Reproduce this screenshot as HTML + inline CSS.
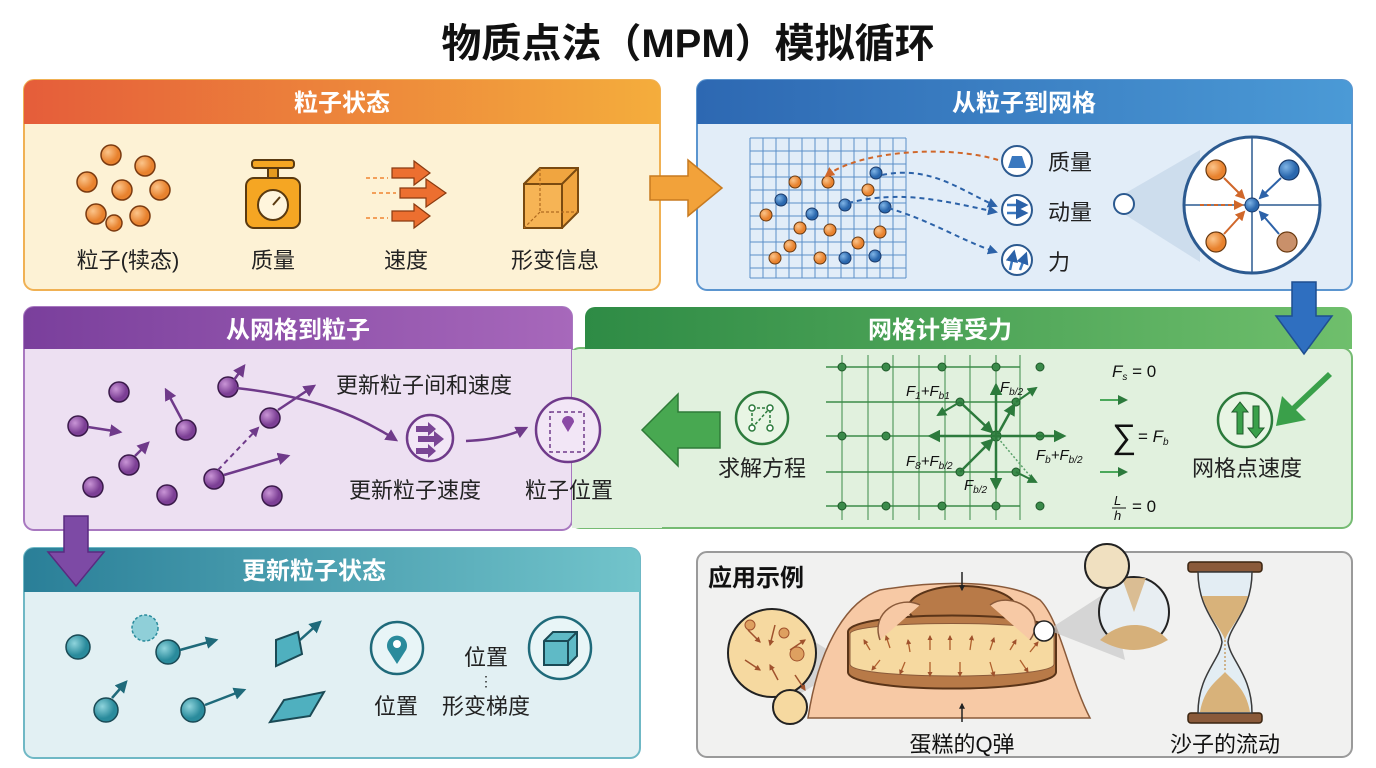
<!DOCTYPE html>
<html><head><meta charset="utf-8"><style>
html,body{margin:0;padding:0;background:#fff;}
svg{display:block;}
text{font-family:"Liberation Sans","Noto Sans CJK SC",sans-serif;}
</style></head><body>
<svg width="1376" height="768" viewBox="0 0 1376 768" xmlns="http://www.w3.org/2000/svg">
<defs>
<linearGradient id="gOr" x1="0" x2="1"><stop offset="0" stop-color="#e55d3a"/><stop offset="1" stop-color="#f4ad3c"/></linearGradient>
<linearGradient id="gBl" x1="0" x2="1"><stop offset="0" stop-color="#2d68b2"/><stop offset="1" stop-color="#4b9ad6"/></linearGradient>
<linearGradient id="gPu" x1="0" x2="1"><stop offset="0" stop-color="#7a3f9c"/><stop offset="1" stop-color="#a768bb"/></linearGradient>
<linearGradient id="gGr" x1="0" x2="1"><stop offset="0" stop-color="#2e8b45"/><stop offset="1" stop-color="#6fbf6c"/></linearGradient>
<linearGradient id="gTe" x1="0" x2="1"><stop offset="0" stop-color="#2a7f98"/><stop offset="1" stop-color="#72c4cb"/></linearGradient>
<radialGradient id="bOr" cx=".35" cy=".35"><stop offset="0" stop-color="#fbc48a"/><stop offset="1" stop-color="#e8822e"/></radialGradient>
<radialGradient id="bBl" cx=".35" cy=".35"><stop offset="0" stop-color="#7fb4e6"/><stop offset="1" stop-color="#2a67ad"/></radialGradient>
<radialGradient id="bPu" cx=".35" cy=".35"><stop offset="0" stop-color="#c995d6"/><stop offset="1" stop-color="#7c3f95"/></radialGradient>
<radialGradient id="bTe" cx=".35" cy=".35"><stop offset="0" stop-color="#8fd4dc"/><stop offset="1" stop-color="#2a8b9c"/></radialGradient>
<marker id="aO" viewBox="0 0 10 10" refX="8" refY="5" markerWidth="5" markerHeight="5" orient="auto"><path d="M0,0L10,5L0,10z" fill="#d0672a"/></marker>
<marker id="aB" viewBox="0 0 10 10" refX="8" refY="5" markerWidth="5" markerHeight="5" orient="auto"><path d="M0,0L10,5L0,10z" fill="#2c62a8"/></marker>
<marker id="aP" viewBox="0 0 10 10" refX="8" refY="5" markerWidth="5" markerHeight="5" orient="auto"><path d="M0,0L10,5L0,10z" fill="#6f3a8a"/></marker>
<marker id="aG" viewBox="0 0 10 10" refX="8" refY="5" markerWidth="5" markerHeight="5" orient="auto"><path d="M0,0L10,5L0,10z" fill="#2c7a3c"/></marker>
<marker id="aT" viewBox="0 0 10 10" refX="8" refY="5" markerWidth="5" markerHeight="5" orient="auto"><path d="M0,0L10,5L0,10z" fill="#1f6a7a"/></marker>
<marker id="aR" viewBox="0 0 10 10" refX="8" refY="5" markerWidth="4" markerHeight="4" orient="auto"><path d="M0,0L10,5L0,10z" fill="#a0522d"/></marker>
<marker id="aK" viewBox="0 0 10 10" refX="8" refY="5" markerWidth="4" markerHeight="4" orient="auto"><path d="M0,0L10,5L0,10z" fill="#222"/></marker>
</defs>

<text x="688" y="57" text-anchor="middle" font-size="40" font-weight="bold" fill="#111">物质点法（MPM）模拟循环</text>

<!-- Panel 1 -->
<rect x="24" y="80" width="636" height="210" rx="10" fill="#fdf2d5" stroke="#f0b154" stroke-width="2"/>
<path d="M34,80h616a10,10 0 0 1 10,10v34h-636v-34a10,10 0 0 1 10,-10z" fill="url(#gOr)"/>
<text x="342" y="111" text-anchor="middle" font-size="24" font-weight="bold" fill="#fff">粒子状态</text>
<g stroke="#7a3a10" stroke-width="1.5" fill="url(#bOr)">
<circle cx="111" cy="155" r="10"/><circle cx="87" cy="182" r="10"/><circle cx="122" cy="190" r="10"/><circle cx="96" cy="214" r="10"/><circle cx="145" cy="166" r="10"/><circle cx="160" cy="190" r="10"/><circle cx="140" cy="216" r="10"/><circle cx="114" cy="223" r="8"/>
</g>
<text x="128" y="268" text-anchor="middle" font-size="22" fill="#222">粒子(犊态)</text>
<rect x="246" y="178" width="54" height="50" rx="8" fill="#f5a623" stroke="#5a3a10" stroke-width="2"/>
<rect x="252" y="160" width="42" height="8" rx="3" fill="#f5a623" stroke="#5a3a10" stroke-width="2"/>
<rect x="268" y="168" width="10" height="10" fill="#e59a1f" stroke="#5a3a10" stroke-width="2"/>
<circle cx="273" cy="205" r="15" fill="#fff5dc" stroke="#5a3a10" stroke-width="2"/>
<line x1="273" y1="205" x2="280" y2="197" stroke="#5a3a10" stroke-width="2"/>
<text x="273" y="268" text-anchor="middle" font-size="22" fill="#222">质量</text>
<g fill="#ec6f30" stroke="#8a3a10" stroke-width="1.2">
<path d="M392,168h22v-7l16,12l-16,12v-7h-22z"/>
<path d="M400,188h26v-9l20,14l-20,14v-9h-26z"/>
<path d="M392,211h22v-7l16,12l-16,12v-7h-22z"/>
</g>
<g stroke="#f3a05a" stroke-width="2" stroke-dasharray="4 3"><line x1="366" y1="178" x2="388" y2="178"/><line x1="372" y1="193" x2="396" y2="193"/><line x1="366" y1="218" x2="388" y2="218"/></g>
<text x="406" y="268" text-anchor="middle" font-size="22" fill="#222">速度</text>
<path d="M524,184l16,-16h38v44l-16,16h-38z" fill="#f0a540" stroke="#7a4a10" stroke-width="2"/>
<path d="M524,184h38v44h-38z" fill="#f6b455" stroke="#7a4a10" stroke-width="2"/>
<path d="M562,184l16,-16M524,184l16,-16" stroke="#7a4a10" stroke-width="2"/>
<path d="M540,168v44h38M540,212l-16,16" stroke="#b06a20" stroke-width="1.2" stroke-dasharray="3 2" fill="none"/>
<text x="555" y="268" text-anchor="middle" font-size="22" fill="#222">形变信息</text>

<!-- Panel 2 -->
<rect x="697" y="80" width="655" height="210" rx="10" fill="#e2edf8" stroke="#5b95cf" stroke-width="2"/>
<path d="M707,80h635a10,10 0 0 1 10,10v34h-655v-34a10,10 0 0 1 10,-10z" fill="url(#gBl)"/>
<text x="1024" y="111" text-anchor="middle" font-size="24" font-weight="bold" fill="#fff">从粒子到网格</text>
<g stroke="#5b8fc8" stroke-width="1">
<path d="M750,138v140M763,138v140M776,138v140M789,138v140M802,138v140M815,138v140M828,138v140M841,138v140M854,138v140M867,138v140M880,138v140M893,138v140M906,138v140"/>
<path d="M750,138h156M750,151h156M750,164h156M750,177h156M750,190h156M750,203h156M750,216h156M750,229h156M750,242h156M750,255h156M750,268h156M750,278h156"/>
</g>
<g stroke="#6a3a10" stroke-width="1" fill="url(#bOr)">
<circle cx="795" cy="182" r="6"/><circle cx="828" cy="182" r="6"/><circle cx="766" cy="215" r="6"/><circle cx="800" cy="228" r="6"/><circle cx="830" cy="230" r="6"/><circle cx="858" cy="243" r="6"/><circle cx="790" cy="246" r="6"/><circle cx="775" cy="258" r="6"/><circle cx="820" cy="258" r="6"/><circle cx="880" cy="232" r="6"/><circle cx="868" cy="190" r="6"/>
</g>
<g stroke="#1a3a6a" stroke-width="1" fill="url(#bBl)">
<circle cx="876" cy="173" r="6"/><circle cx="781" cy="200" r="6"/><circle cx="812" cy="214" r="6"/><circle cx="845" cy="205" r="6"/><circle cx="885" cy="207" r="6"/><circle cx="845" cy="258" r="6"/><circle cx="875" cy="256" r="6"/>
</g>
<path d="M998,160C950,145 860,150 826,176" stroke="#d0672a" stroke-width="2" stroke-dasharray="5 4" fill="none" marker-end="url(#aO)"/>
<path d="M882,175C930,165 960,190 996,206" stroke="#2c62a8" stroke-width="2" stroke-dasharray="5 4" fill="none" marker-end="url(#aB)"/>
<path d="M848,203C900,190 940,200 996,212" stroke="#2c62a8" stroke-width="2" stroke-dasharray="5 4" fill="none" marker-end="url(#aB)"/>
<path d="M888,208C930,220 960,240 996,252" stroke="#2c62a8" stroke-width="2" stroke-dasharray="5 4" fill="none" marker-end="url(#aB)"/>
<g stroke="#2c5a90" stroke-width="2" fill="#fff">
<circle cx="1017" cy="161" r="15"/><circle cx="1017" cy="210" r="15"/><circle cx="1017" cy="260" r="15"/>
</g>
<path d="M1008,168l4,-12h10l4,12z" fill="#3a78bf"/>
<g stroke="#3a78bf" stroke-width="2.5" fill="none" marker-end="url(#aB)"><line x1="1007" y1="205" x2="1026" y2="205"/><line x1="1007" y1="213" x2="1026" y2="213"/><line x1="1010" y1="270" x2="1014" y2="252"/><line x1="1020" y1="270" x2="1026" y2="254"/></g>
<text x="1048" y="170" font-size="22" fill="#222">质量</text>
<text x="1048" y="220" font-size="22" fill="#222">动量</text>
<text x="1048" y="270" font-size="22" fill="#222">力</text>
<path d="M1124,194L1200,150L1200,262L1124,214z" fill="#c8d8ea" opacity=".8"/>
<circle cx="1124" cy="204" r="10" fill="#fff" stroke="#2c5a90" stroke-width="2"/>
<circle cx="1252" cy="205" r="68" fill="#fff" stroke="#2c5a90" stroke-width="3"/>
<path d="M1184,205h136M1252,137v136" stroke="#2c5a90" stroke-width="1.5"/>
<circle cx="1252" cy="205" r="7" fill="url(#bBl)" stroke="#1a3a6a"/>
<g stroke="#6a3a10" stroke-width="1.2"><circle cx="1216" cy="170" r="10" fill="url(#bOr)"/><circle cx="1216" cy="242" r="10" fill="url(#bOr)"/><circle cx="1287" cy="242" r="10" fill="#c9906a"/></g>
<circle cx="1289" cy="170" r="10" fill="url(#bBl)" stroke="#1a3a6a" stroke-width="1.2"/>
<g stroke-width="2" fill="none"><line x1="1224" y1="178" x2="1244" y2="198" stroke="#d0672a" marker-end="url(#aO)"/><line x1="1224" y1="234" x2="1244" y2="212" stroke="#d0672a" marker-end="url(#aO)"/><line x1="1281" y1="178" x2="1260" y2="198" stroke="#2c62a8" marker-end="url(#aB)"/><line x1="1279" y1="234" x2="1260" y2="212" stroke="#2c62a8" marker-end="url(#aB)"/><line x1="1200" y1="205" x2="1242" y2="205" stroke="#d0672a" stroke-dasharray="4 3" marker-end="url(#aO)"/></g>

<!-- arrow 1->2 -->
<path d="M650,176h38v-16l34,28l-34,28v-16h-38z" fill="#f2a23a" stroke="#c77a20" stroke-width="1.5"/>

<!-- Panel 3 green -->
<rect x="570" y="348" width="782" height="180" rx="10" fill="#e1f1de" stroke="#75bb72" stroke-width="2"/>
<path d="M595,307h747a10,10 0 0 1 10,10v32h-767v-32a10,10 0 0 1 10,-10z" fill="url(#gGr)"/>
<text x="940" y="338" text-anchor="middle" font-size="24" font-weight="bold" fill="#fff">网格计算受力</text>
<rect x="24" y="307" width="548" height="223" rx="10" fill="#ede0f2" stroke="#a878c0" stroke-width="2"/>
<path d="M34,307h528a10,10 0 0 1 10,10v32h-548v-32a10,10 0 0 1 10,-10z" fill="url(#gPu)"/>
<text x="298" y="338" text-anchor="middle" font-size="24" font-weight="bold" fill="#fff">从网格到粒子</text>
<rect x="572" y="350" width="90" height="178" fill="#e1f1de"/>
<path d="M1292,282h24v34h16l-28,38l-28,-38h16z" fill="#2f6fc0" stroke="#1f4f90" stroke-width="1.5"/>
<path d="M1332,376l-36,34l10,10l-30,6l6,-30l10,10l36,-34z" fill="#3aa04a"/>
<path d="M720,412h-42v-18l-36,36l36,36v-18h42z" fill="#48a851" stroke="#2f7a38" stroke-width="1.5"/>
<g stroke="#3c8c48" stroke-width="1.5">
<path d="M826,367h194M826,402h194M826,436h194M826,472h194M826,506h194"/>
<path d="M842,355v165M868,355v165M893,355v165M919,355v165M945,355v165M970,355v165M996,355v165M1020,355v165" stroke-width="1"/>
</g>
<g fill="#3a8a4a" stroke="#1f5a2a" stroke-width="1">
<circle cx="842" cy="367" r="4"/><circle cx="886" cy="367" r="4"/><circle cx="942" cy="367" r="4"/><circle cx="996" cy="367" r="4"/><circle cx="1040" cy="367" r="4"/>
<circle cx="842" cy="436" r="4"/><circle cx="886" cy="436" r="4"/><circle cx="996" cy="436" r="5"/><circle cx="1040" cy="436" r="4"/>
<circle cx="960" cy="402" r="4"/><circle cx="1016" cy="402" r="4"/><circle cx="960" cy="472" r="4"/><circle cx="1016" cy="472" r="4"/>
<circle cx="842" cy="506" r="4"/><circle cx="886" cy="506" r="4"/><circle cx="942" cy="506" r="4"/><circle cx="996" cy="506" r="4"/><circle cx="1040" cy="506" r="4"/>
</g>
<g stroke="#2c7a3c" stroke-width="2.5" fill="none" marker-end="url(#aG)">
<line x1="996" y1="436" x2="930" y2="436"/><line x1="996" y1="436" x2="1064" y2="436"/><line x1="996" y1="436" x2="996" y2="385"/><line x1="996" y1="436" x2="996" y2="488"/>
<line x1="960" y1="402" x2="992" y2="432"/><line x1="960" y1="472" x2="992" y2="440"/><line x1="998" y1="434" x2="1014" y2="405"/>
<line x1="960" y1="402" x2="938" y2="415" stroke-width="2"/><line x1="1016" y1="402" x2="1036" y2="388" stroke-width="2"/><line x1="1016" y1="472" x2="1036" y2="482" stroke-width="2"/>
<line x1="1100" y1="400" x2="1126" y2="400" stroke="#4aa85a" stroke-width="2"/><line x1="1100" y1="472" x2="1126" y2="472" stroke="#4aa85a" stroke-width="2"/>
</g>
<line x1="998" y1="438" x2="1030" y2="476" stroke="#5aa06a" stroke-width="1.5" stroke-dasharray="2 2"/>
<g font-family="Liberation Serif,serif" font-style="italic" fill="#111" font-size="15">
<text x="906" y="396">F<tspan font-size="10" dy="3">1</tspan><tspan dy="-3">+F</tspan><tspan font-size="10" dy="3">b1</tspan></text>
<text x="1000" y="392">F<tspan font-size="10" dy="3">b/2</tspan></text>
<text x="906" y="466">F<tspan font-size="10" dy="3">8</tspan><tspan dy="-3">+F</tspan><tspan font-size="10" dy="3">b/2</tspan></text>
<text x="1036" y="460">F<tspan font-size="10" dy="3">b</tspan><tspan dy="-3">+F</tspan><tspan font-size="10" dy="3">b/2</tspan></text>
<text x="964" y="490">F<tspan font-size="10" dy="3">b/2</tspan></text>
<text x="1112" y="377" font-size="17">F<tspan font-size="10" dy="3">s</tspan><tspan dy="-3" font-style="normal"> = 0</tspan></text>
<text x="1112" y="448" font-size="34" font-style="normal">∑</text><text x="1138" y="442" font-size="17"><tspan font-style="normal">= </tspan>F<tspan font-size="10" dy="3">b</tspan></text>
<text x="1114" y="505" font-size="13">L</text><text x="1114" y="520" font-size="13">h</text><line x1="1112" y1="508" x2="1126" y2="508" stroke="#111"/><text x="1132" y="512" font-size="17" font-style="normal">= 0</text>
</g>
<circle cx="762" cy="418" r="26" fill="#e8f5e4" stroke="#2c7a3c" stroke-width="2.5"/>
<g stroke="#2c7a3c" stroke-width="1.5" fill="#fff"><path d="M752,408h18v20M752,408v20l18,-20" fill="none" stroke-dasharray="3 2"/><circle cx="752" cy="408" r="3"/><circle cx="770" cy="408" r="3"/><circle cx="752" cy="428" r="3"/><circle cx="770" cy="428" r="3"/></g>
<text x="762" y="476" text-anchor="middle" font-size="22" fill="#222">求解方程</text>
<circle cx="1245" cy="420" r="27" fill="#e8f5e4" stroke="#2c7a3c" stroke-width="2.5"/>
<path d="M1237,434v-22h-5l8,-10l8,10h-5v22z" fill="#3aa04a" stroke="#1f5a2a"/>
<path d="M1253,406v22h-5l8,10l8,-10h-5v-22z" fill="#3aa04a" stroke="#1f5a2a"/>
<text x="1247" y="476" text-anchor="middle" font-size="22" fill="#222">网格点速度</text>

<g stroke="#3a1a4a" stroke-width="1.5" fill="url(#bPu)">
<circle cx="119" cy="392" r="10"/><circle cx="78" cy="426" r="10"/><circle cx="186" cy="430" r="10"/><circle cx="129" cy="465" r="10"/><circle cx="93" cy="487" r="10"/><circle cx="167" cy="495" r="10"/><circle cx="228" cy="387" r="10"/><circle cx="270" cy="418" r="10"/><circle cx="214" cy="479" r="10"/><circle cx="272" cy="496" r="10"/>
</g>
<g stroke="#6f3a8a" stroke-width="2.5" fill="none" marker-end="url(#aP)">
<line x1="88" y1="427" x2="120" y2="432"/><line x1="182" y1="420" x2="166" y2="390"/><line x1="135" y1="456" x2="148" y2="443"/><line x1="234" y1="380" x2="244" y2="366"/><line x1="278" y1="410" x2="314" y2="386"/><line x1="224" y1="475" x2="288" y2="456"/>
<path d="M236,388C300,395 350,410 396,440"/>
<path d="M466,441C490,440 510,436 526,428"/>
</g>
<line x1="218" y1="470" x2="258" y2="428" stroke="#6f3a8a" stroke-width="2" stroke-dasharray="5 4" marker-end="url(#aP)"/>
<text x="336" y="393" font-size="22" fill="#222">更新粒子间和速度</text>
<circle cx="430" cy="438" r="23" fill="#f2e6f6" stroke="#6f3a8a" stroke-width="2.5"/>
<g fill="#7a4595"><path d="M416,426h12v-4l8,7l-8,7v-4h-12z"/><path d="M418,436h16v-5l10,8l-10,8v-5h-16z"/><path d="M416,448h12v-4l8,7l-8,7v-4h-12z"/></g>
<text x="415" y="498" text-anchor="middle" font-size="22" fill="#222">更新粒子速度</text>
<circle cx="568" cy="430" r="32" fill="#f2e6f6" stroke="#6f3a8a" stroke-width="2.5"/>
<rect x="550" y="412" width="34" height="40" fill="none" stroke="#6f3a8a" stroke-width="1.5" stroke-dasharray="4 3"/>
<path d="M568,432l-6,-10a6,6 0 1 1 12,0z" fill="#8a4aa5"/>
<text x="569" y="498" text-anchor="middle" font-size="22" fill="#222">粒子位置</text>

<!-- Panel 5 -->
<rect x="24" y="548" width="616" height="210" rx="10" fill="#e2f0f3" stroke="#6fb8c5" stroke-width="2"/>
<path d="M34,548h596a10,10 0 0 1 10,10v34h-616v-34a10,10 0 0 1 10,-10z" fill="url(#gTe)"/>
<text x="314" y="579" text-anchor="middle" font-size="24" font-weight="bold" fill="#fff">更新粒子状态</text>
<!-- purple arrow down -->
<path d="M64,516h24v36h16l-28,34l-28,-34h16z" fill="#7d4aa5" stroke="#5a2a80" stroke-width="1.5"/>
<g stroke="#1a4a55" stroke-width="1.5" fill="url(#bTe)">
<circle cx="78" cy="647" r="12"/><circle cx="168" cy="652" r="12"/><circle cx="106" cy="710" r="12"/><circle cx="193" cy="710" r="12"/>
</g>
<circle cx="145" cy="628" r="13" fill="#8fcfd8" stroke="#2a8b9c" stroke-width="1.5" stroke-dasharray="3 2"/>
<g stroke="#1f6a7a" stroke-width="2.5" marker-end="url(#aT)"><line x1="180" y1="650" x2="216" y2="640"/><line x1="112" y1="698" x2="126" y2="682"/><line x1="205" y1="705" x2="244" y2="690"/><line x1="300" y1="640" x2="320" y2="622"/></g>
<path d="M276,640l22,-8l4,22l-26,12z" fill="#4fb0bf" stroke="#1a4a55" stroke-width="2"/>
<path d="M270,722l14,-22l40,-8l-14,24z" fill="#4fb0bf" stroke="#1a4a55" stroke-width="2"/>
<circle cx="397" cy="648" r="26" fill="#e8f5f7" stroke="#1f6a7a" stroke-width="2.5"/>
<path d="M397,664l-9,-14a10,10 0 1 1 18,0z" fill="#2a8b9c"/><circle cx="397" cy="644" r="4" fill="#fff"/>
<text x="396" y="714" text-anchor="middle" font-size="22" fill="#222">位置</text>
<text x="486" y="665" text-anchor="middle" font-size="22" fill="#222">位置</text>
<text x="486" y="686" text-anchor="middle" font-size="14" fill="#222">⋮</text>
<text x="486" y="714" text-anchor="middle" font-size="22" fill="#222">形变梯度</text>
<circle cx="560" cy="648" r="31" fill="#e8f5f7" stroke="#1f6a7a" stroke-width="2.5"/>
<path d="M544,641l9,-9h24v24l-9,9h-24z" fill="#5fbac6" stroke="#1a4a55" stroke-width="2"/>
<path d="M544,641h24v24M568,641l9,-9" stroke="#1a4a55" stroke-width="2" fill="none"/>

<!-- Panel 6 -->
<rect x="697" y="552" width="655" height="205" rx="10" fill="#f1f1f0" stroke="#9a9a9a" stroke-width="2"/>
<text x="708" y="586" font-size="24" font-weight="bold" fill="#111">应用示例</text>
<path d="M780,620L836,655L836,672L790,700z" fill="#c9c9c9" opacity=".7"/>
<circle cx="772" cy="653" r="44" fill="#f6d9a0" stroke="#222" stroke-width="2"/>
<g stroke="#a0522d" stroke-width="1.5" marker-end="url(#aR)">
<line x1="748" y1="630" x2="760" y2="642"/><line x1="775" y1="625" x2="770" y2="645"/><line x1="790" y1="650" x2="805" y2="640"/><line x1="745" y1="660" x2="760" y2="670"/><line x1="778" y1="680" x2="770" y2="665"/><line x1="795" y1="675" x2="805" y2="690"/>
</g>
<g fill="#dea060" stroke="#a0522d"><circle cx="750" cy="625" r="5"/><circle cx="784" cy="633" r="5"/><circle cx="797" cy="654" r="7"/></g>
<circle cx="790" cy="707" r="17" fill="#f6d9a0" stroke="#222" stroke-width="2"/>
<circle cx="838" cy="664" r="7" fill="#fff" stroke="#222" stroke-width="1.5"/>
<path d="M808,718C820,640 850,600 880,590C940,580 1010,580 1040,600C1060,620 1070,680 1090,718z" fill="#f7c9a5" stroke="#8a5a3a" stroke-width="1.5"/>
<ellipse cx="962" cy="608" rx="54" ry="22" fill="#b87a48" stroke="#5a3418" stroke-width="2"/>
<path d="M848,632C848,610 1056,610 1056,632v40c0,22 -208,22 -208,0z" fill="#b87a48" stroke="#5a3418" stroke-width="2"/>
<path d="M850,634C850,620 1054,620 1054,634v30c0,16 -204,16 -204,0z" fill="#f6d9a0" stroke="#8a5a3a" stroke-width="1"/>
<g stroke="#b0602d" stroke-width="1.3" marker-end="url(#aR)">
<line x1="870" y1="650" x2="864" y2="640"/><line x1="890" y1="648" x2="886" y2="636"/><line x1="910" y1="652" x2="908" y2="640"/><line x1="930" y1="650" x2="930" y2="636"/><line x1="950" y1="650" x2="950" y2="636"/><line x1="970" y1="650" x2="972" y2="636"/><line x1="990" y1="650" x2="994" y2="638"/><line x1="1010" y1="650" x2="1016" y2="640"/><line x1="1030" y1="652" x2="1038" y2="642"/>
<line x1="880" y1="660" x2="872" y2="670"/><line x1="905" y1="662" x2="900" y2="674"/><line x1="930" y1="662" x2="930" y2="676"/><line x1="960" y1="662" x2="960" y2="676"/><line x1="990" y1="662" x2="994" y2="676"/><line x1="1020" y1="660" x2="1028" y2="672"/>
</g>
<path d="M880,640C870,612 900,595 920,605M1030,640C1050,612 1010,590 990,605" stroke="#8a5a3a" stroke-width="1.5" fill="#f7c9a5"/>
<line x1="962" y1="572" x2="962" y2="590" stroke="#222" stroke-width="1.5" marker-end="url(#aK)"/>
<line x1="962" y1="722" x2="962" y2="704" stroke="#222" stroke-width="1.5" marker-end="url(#aK)"/>
<text x="962" y="752" text-anchor="middle" font-size="22" fill="#111">蛋糕的Q弹</text>
<path d="M1048,630L1110,590L1125,660z" fill="#c9c9c9" opacity=".7"/>
<circle cx="1044" cy="631" r="10" fill="#fff" stroke="#222" stroke-width="1.5"/>
<circle cx="1134" cy="612" r="35" fill="#e8eef2" stroke="#222" stroke-width="2"/>
<path d="M1100,640C1120,620 1150,620 1168,640Q1134,660 1100,640z" fill="#d6b07a"/>
<path d="M1122,578l12,34l12,-34" fill="#d6b07a" opacity=".8"/>
<circle cx="1107" cy="566" r="22" fill="#f0e0c0" stroke="#222" stroke-width="2"/>
<rect x="1188" y="562" width="74" height="10" rx="3" fill="#8a5a3a" stroke="#3a2410" stroke-width="1.5"/>
<rect x="1188" y="713" width="74" height="10" rx="3" fill="#8a5a3a" stroke="#3a2410" stroke-width="1.5"/>
<path d="M1198,572C1198,610 1220,625 1222,642C1220,660 1198,675 1198,713h54C1252,675 1230,660 1228,642C1230,625 1252,610 1252,572z" fill="#e3edf3" stroke="#3a3a3a" stroke-width="1.5"/>
<path d="M1202,596C1210,620 1222,630 1225,640C1228,630 1240,620 1248,596z" fill="#d8b27a"/>
<path d="M1200,712C1204,688 1218,680 1225,672C1232,680 1246,688 1250,712z" fill="#d8b27a"/>
<line x1="1225" y1="640" x2="1225" y2="672" stroke="#c8a06a" stroke-width="1.5" stroke-dasharray="2 2"/>
<text x="1225" y="752" text-anchor="middle" font-size="22" fill="#111">沙子的流动</text>
</svg>
</body></html>
